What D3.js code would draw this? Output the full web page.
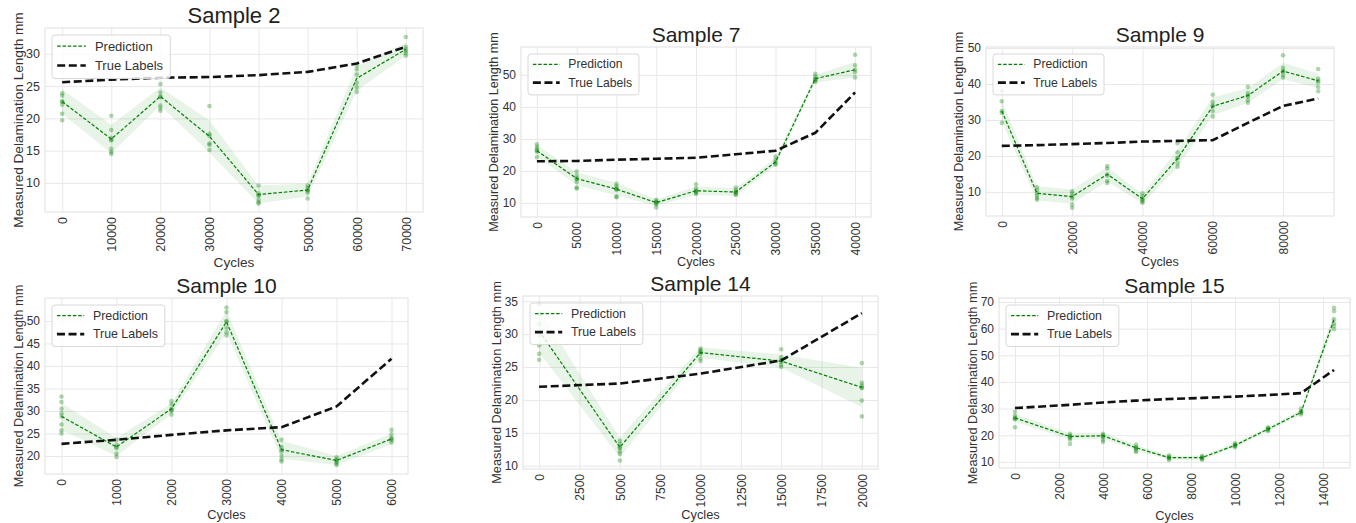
<!DOCTYPE html>
<html>
<head>
<meta charset="utf-8">
<script src="https://cdn.jsdelivr.net/npm/d3@7"></script>
<style>
  html, body { margin: 0; padding: 0; background: #fff; }
  svg { display: block; }
</style>
</head>
<body>
<svg id="chart" width="1356" height="523"></svg>
<script>
// ---- Sample 2 ----
const s2Cycles = [0, 10000, 20000, 30000, 40000, 50000, 60000, 70000];
const s2Pred   = [22.6, 16.8, 23.4, 17.2, 8.2, 8.9, 26.2, 30.7];
const s2Spread = [1.9, 2.2, 1.4, 2.5, 1.4, 1.0, 1.9, 1.0];
const s2True   = [25.6, 26.0, 26.3, 26.4, 26.7, 27.2, 28.5, 31.1];
const s2Runs = [
  [23.9, 23.5, 22.6, 22.6, 22.1, 20.7, 19.7],
  [20.4, 18.2, 17.0, 16.7, 16.6, 15.3, 14.8, 14.5],
  [25.3, 24.0, 23.4, 23.3, 22.0, 21.6, 21.2],
  [21.9, 17.6, 17.3, 16.1, 15.9, 15.1],
  [9.6, 8.4, 8.1, 8.0, 7.4, 7.0, 6.8],
  [9.6, 9.2, 8.9, 8.8, 8.5, 7.6],
  [28.2, 27.6, 26.8, 25.5, 24.8, 24.1],
  [32.6, 31.1, 30.7, 30.4, 30.1, 29.7]
];
const s2XTicks = [0, 10000, 20000, 30000, 40000, 50000, 60000, 70000];
const s2YTicks = [10, 15, 20, 25, 30];

// ---- Sample 7 ----
const s7Cycles = [0, 5000, 10000, 15000, 20000, 25000, 30000, 35000, 40000];
const s7Pred   = [26.3, 17.6, 14.3, 10.1, 13.8, 13.4, 22.8, 48.8, 51.6];
const s7Spread = [1.8, 2.0, 2.0, 1.0, 1.3, 1.2, 1.2, 1.2, 2.4];
const s7True   = [23.0, 23.1, 23.5, 23.8, 24.1, 25.2, 26.3, 31.9, 44.5];
const s7Runs = [
  [28.3, 27.5, 26.8, 26.3, 26.0, 24.3],
  [19.8, 18.5, 17.6, 17.5, 16.5, 14.8, 14.5],
  [16.0, 15.2, 14.5, 14.3, 14.1, 12.0, 11.8],
  [11.0, 10.5, 10.1, 10.0, 9.5, 8.6],
  [15.8, 14.5, 13.8, 13.6, 13.2, 12.8],
  [14.8, 14.0, 13.4, 13.3, 12.8, 12.5],
  [24.5, 23.5, 22.8, 22.3, 21.9],
  [50.3, 49.5, 48.8, 48.6, 48.2, 47.8],
  [56.3, 53.0, 51.6, 50.8, 49.2]
];
const s7XTicks = [0, 5000, 10000, 15000, 20000, 25000, 30000, 35000, 40000];
const s7YTicks = [10, 20, 30, 40, 50];

// ---- Sample 9 ----
const s9Cycles = [0, 10000, 20000, 30000, 40000, 50000, 60000, 70000, 80000, 90000];
const s9Pred   = [32.5, 9.6, 8.7, 14.9, 8.1, 19.3, 33.8, 36.8, 43.6, 40.9];
const s9Spread = [3.0, 2.0, 2.0, 2.0, 1.3, 2.5, 2.5, 2.0, 2.3, 2.0];
const s9True   = [22.8, 23.0, 23.3, 23.6, 24.0, 24.2, 24.4, 29.2, 33.9, 36.0];
const s9Runs = [
  [38.0, 35.2, 32.5, 32.0, 29.2],
  [11.3, 10.5, 9.6, 9.0, 8.3, 7.8],
  [10.2, 9.5, 8.7, 8.2, 6.5, 5.6],
  [17.2, 16.5, 14.9, 14.5, 13.0, 12.5],
  [9.6, 8.8, 8.1, 7.8, 7.3, 7.0],
  [23.5, 21.0, 19.5, 19.3, 18.0, 17.0],
  [37.0, 35.0, 34.0, 33.8, 32.5, 31.0],
  [39.2, 37.5, 36.8, 36.5, 35.5, 34.8],
  [48.0, 44.5, 43.6, 43.5, 42.5, 41.8],
  [44.2, 41.5, 40.9, 40.5, 39.2, 38.0]
];
const s9XTicks = [0, 20000, 40000, 60000, 80000];
const s9YTicks = [10, 20, 30, 40, 50];

// ---- Sample 10 ----
const s10Cycles = [0, 1000, 2000, 3000, 4000, 5000, 6000];
const s10Pred   = [28.8, 22.0, 30.5, 49.8, 21.4, 19.0, 23.8];
const s10Spread = [3.0, 2.0, 1.2, 2.5, 2.0, 1.0, 1.2];
const s10True   = [22.7, 23.6, 24.7, 25.7, 26.4, 31.0, 41.6];
const s10Runs = [
  [33.2, 32.0, 30.5, 29.5, 28.8, 27.0, 25.7, 25.0],
  [23.6, 22.5, 22.0, 21.8, 20.5, 19.8],
  [32.2, 31.5, 30.5, 30.3, 30.0, 29.2],
  [53.0, 52.0, 50.0, 49.8, 48.5, 47.5, 46.8],
  [23.6, 22.0, 21.4, 21.0, 20.0, 19.2, 18.8],
  [19.7, 19.2, 19.0, 18.7, 18.3, 18.0],
  [25.8, 24.8, 24.0, 23.8, 23.5, 23.0]
];
const s10XTicks = [0, 1000, 2000, 3000, 4000, 5000, 6000];
const s10YTicks = [20, 25, 30, 35, 40, 45, 50];

// ---- Sample 14 ----
const s14Cycles = [0, 5000, 10000, 15000, 20000];
const s14Pred   = [30.5, 12.8, 27.2, 25.9, 21.9];
const s14Spread = [3.3, 1.5, 0.8, 1.0, 3.0];
const s14True   = [22.0, 22.5, 24.0, 26.0, 33.2];
const s14Runs = [
  [34.5, 33.0, 31.5, 29.8, 28.3, 27.0, 26.1],
  [13.8, 13.3, 12.8, 12.7, 12.2, 11.8, 10.8],
  [27.8, 27.6, 27.3, 27.2, 27.0, 26.3, 25.9],
  [27.7, 26.5, 26.1, 25.9, 25.8, 25.3, 25.0],
  [25.6, 22.6, 22.2, 21.9, 21.8, 19.9, 17.5]
];
const s14XTicks = [0, 2500, 5000, 7500, 10000, 12500, 15000, 17500, 20000];
const s14YTicks = [10, 15, 20, 25, 30, 35];

// ---- Sample 15 ----
const s15Cycles = [0, 2500, 4000, 5500, 7000, 8500, 10000, 11500, 13000, 14500];
const s15Pred   = [26.5, 19.5, 19.8, 15.3, 11.6, 11.6, 16.2, 22.3, 28.6, 63.5];
const s15Spread = [1.5, 1.2, 1.2, 1.0, 0.8, 0.8, 0.8, 0.8, 1.0, 2.5];
const s15True   = [30.2, 31.4, 32.3, 33.0, 33.6, 34.0, 34.5, 35.1, 35.8, 44.5];
const s15Runs = [
  [28.8, 27.3, 26.5, 26.3, 26.0, 23.0],
  [20.5, 19.8, 19.5, 19.0, 18.3, 16.7],
  [20.5, 19.9, 19.8, 19.2, 18.2, 17.5],
  [16.5, 15.5, 15.3, 15.0, 14.2, 13.7],
  [12.5, 11.8, 11.6, 11.3, 10.7],
  [12.3, 11.6, 11.6, 11.2, 10.8],
  [17.0, 16.5, 16.2, 16.0, 15.5],
  [23.0, 22.5, 22.3, 22.0, 21.5],
  [30.0, 29.0, 28.6, 28.5, 27.8],
  [67.8, 66.5, 63.5, 62.0, 61.0, 59.8]
];
const s15XTicks = [0, 2000, 4000, 6000, 8000, 10000, 12000, 14000];
const s15YTicks = [10, 20, 30, 40, 50, 60, 70];

const FONT = "'Liberation Sans', Arial, Helvetica, sans-serif";
const GREEN = "#008000";
const TEXT = "#333333";

// Panel placement (plot-area rectangles) and per-panel text sizing.
const panels = [
  { title: "Sample 2",  cycles: s2Cycles,  pred: s2Pred,  spread: s2Spread,  truth: s2True,  runs: s2Runs,
    xTicks: s2XTicks,  yTicks: s2YTicks,  yDomain: [5.5, 34.0],
    box: { l: 45,  t: 28,  r: 423,  b: 212 }, tickFs: 12.5, labelFs: 13.6, titleFs: 22, legendFs: 13, xLabelGap: 50 },
  { title: "Sample 7",  cycles: s7Cycles,  pred: s7Pred,  spread: s7Spread,  truth: s7True,  runs: s7Runs,
    xTicks: s7XTicks,  yTicks: s7YTicks,  yDomain: [5.6, 58.7],
    box: { l: 521, t: 47,  r: 871,  b: 217 }, tickFs: 12, labelFs: 12.6, titleFs: 21, legendFs: 12.2, xLabelGap: 45 },
  { title: "Sample 9",  cycles: s9Cycles,  pred: s9Pred,  spread: s9Spread,  truth: s9True,  runs: s9Runs,
    xTicks: s9XTicks,  yTicks: s9YTicks,  yDomain: [3.3, 50.3],
    box: { l: 986, t: 47,  r: 1334, b: 216 }, tickFs: 12, labelFs: 12.6, titleFs: 21, legendFs: 12.2, xLabelGap: 46 },
  { title: "Sample 10", cycles: s10Cycles, pred: s10Pred, spread: s10Spread, truth: s10True, runs: s10Runs,
    xTicks: s10XTicks, yTicks: s10YTicks, yDomain: [16.0, 55.1],
    box: { l: 45,  t: 298, r: 408,  b: 474 }, tickFs: 12, labelFs: 12.8, titleFs: 21, legendFs: 12.4, xLabelGap: 40 },
  { title: "Sample 14", cycles: s14Cycles, pred: s14Pred, spread: s14Spread, truth: s14True, runs: s14Runs,
    xTicks: s14XTicks, yTicks: s14YTicks, yDomain: [9.5, 35.8],
    box: { l: 523, t: 296, r: 878,  b: 469 }, tickFs: 12, labelFs: 12.8, titleFs: 21, legendFs: 12.4, xLabelGap: 45 },
  { title: "Sample 15", cycles: s15Cycles, pred: s15Pred, spread: s15Spread, truth: s15True, runs: s15Runs,
    xTicks: s15XTicks, yTicks: s15YTicks, yDomain: [7.7, 71.5],
    box: { l: 999, t: 298, r: 1350, b: 468 }, tickFs: 12, labelFs: 12.8, titleFs: 21, legendFs: 12.4, xLabelGap: 47 }
];

const svg = d3.select("#chart").style("font-family", FONT);

panels.forEach(p => {
  const { l, t, r, b } = p.box;
  const w = r - l, h = b - t;
  const xMin = d3.min(p.cycles), xMax = d3.max(p.cycles);
  const pad = (xMax - xMin) * 0.05;
  const x = d3.scaleLinear().domain([xMin - pad, xMax + pad]).range([0, w]);
  const y = d3.scaleLinear().domain(p.yDomain).range([h, 0]);

  const g = svg.append("g").attr("transform", `translate(${l},${t})`);

  // grid
  g.append("g").attr("class", "xgrid")
    .attr("transform", `translate(0,${h})`)
    .call(d3.axisBottom(x).tickValues(p.xTicks).tickSize(-h).tickFormat(""))
    .call(s => s.select(".domain").remove())
    .call(s => s.selectAll("line").attr("stroke", "#e8e8e8").attr("stroke-width", 1));
  g.append("g").attr("class", "ygrid")
    .call(d3.axisLeft(y).tickValues(p.yTicks).tickSize(-w).tickFormat(""))
    .call(s => s.select(".domain").remove())
    .call(s => s.selectAll("line").attr("stroke", "#e8e8e8").attr("stroke-width", 1));

  const series = p.cycles.map((c, i) => ({ c, m: p.pred[i], s: p.spread[i], tr: p.truth[i], runs: p.runs[i] }));

  // spread band around the prediction
  g.append("path").datum(series)
    .attr("fill", GREEN).attr("fill-opacity", 0.09)
    .attr("d", d3.area().x(d => x(d.c)).y0(d => y(d.m - d.s)).y1(d => y(d.m + d.s)));

  // individual runs
  const pts = series.flatMap(d => d.runs.map(v => ({ c: d.c, v })));
  g.append("g").selectAll("circle").data(pts).join("circle")
    .attr("cx", d => x(d.c)).attr("cy", d => y(d.v)).attr("r", 2.3)
    .attr("fill", GREEN).attr("fill-opacity", 0.32);

  // mean prediction
  g.append("path").datum(series)
    .attr("fill", "none").attr("stroke", GREEN).attr("stroke-width", 1.2)
    .attr("stroke-dasharray", "3.5,1.8")
    .attr("d", d3.line().x(d => x(d.c)).y(d => y(d.m)));

  // true labels
  g.append("path").datum(series)
    .attr("fill", "none").attr("stroke", "#111").attr("stroke-width", 2.6)
    .attr("stroke-dasharray", "8,3.6")
    .attr("d", d3.line().x(d => x(d.c)).y(d => y(d.tr)));

  // frame
  g.append("rect").attr("width", w).attr("height", h)
    .attr("fill", "none").attr("stroke", "#e0e0e0").attr("stroke-width", 1);

  // x axis labels
  g.append("g").attr("transform", `translate(0,${h})`)
    .call(d3.axisBottom(x).tickValues(p.xTicks).tickSize(0).tickFormat(d3.format("d")))
    .call(s => s.select(".domain").remove())
    .call(s => s.selectAll("text")
      .attr("transform", "rotate(-90)")
      .attr("x", -5).attr("y", 0).attr("dy", "0.35em")
      .style("text-anchor", "end")
      .attr("fill", TEXT).style("font-size", p.tickFs + "px").style("font-family", FONT));

  // y axis labels
  g.append("g")
    .call(d3.axisLeft(y).tickValues(p.yTicks).tickSize(0).tickPadding(5).tickFormat(d3.format("d")))
    .call(s => s.select(".domain").remove())
    .call(s => s.selectAll("text")
      .attr("fill", TEXT).style("font-size", p.tickFs + "px").style("font-family", FONT));

  // titles
  g.append("text").attr("x", w / 2).attr("y", -5)
    .attr("text-anchor", "middle").attr("fill", "#222")
    .style("font-size", p.titleFs + "px").text(p.title);
  g.append("text").attr("x", w / 2).attr("y", h + p.xLabelGap)
    .attr("text-anchor", "middle").attr("dominant-baseline", "central").attr("fill", TEXT)
    .style("font-size", p.labelFs + "px").text("Cycles");
  g.append("text")
    .attr("transform", `translate(-27,${h / 2}) rotate(-90)`)
    .attr("text-anchor", "middle").attr("dominant-baseline", "central").attr("fill", TEXT)
    .style("font-size", p.labelFs + "px").text("Measured Delamination Length mm");

  // legend
  const fs = p.legendFs;
  const lg = g.append("g").attr("transform", "translate(7,7)");
  const lw = fs * 9.1, lh = fs * 3.35;
  lg.append("rect").attr("width", lw).attr("height", lh).attr("rx", 3)
    .attr("fill", "#fff").attr("fill-opacity", 0.8)
    .attr("stroke", "#d8d8d8").attr("stroke-width", 1);
  const items = [
    { label: "Prediction", color: GREEN, width: 1.2, dash: "3.5,1.8" },
    { label: "True Labels", color: "#111", width: 2.6, dash: "8,3.6" }
  ];
  items.forEach((it, i) => {
    const cy = fs * 0.85 + i * fs * 1.5;
    lg.append("line").attr("x1", fs * 0.4).attr("x2", fs * 2.6).attr("y1", cy).attr("y2", cy)
      .attr("stroke", it.color).attr("stroke-width", it.width).attr("stroke-dasharray", it.dash);
    lg.append("text").attr("x", fs * 3.3).attr("y", cy).attr("dominant-baseline", "central")
      .attr("fill", TEXT).style("font-size", fs + "px").text(it.label);
  });
});
</script>
</body>
</html>
